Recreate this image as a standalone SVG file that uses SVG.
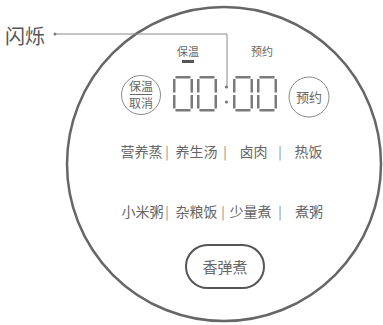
<svg xmlns="http://www.w3.org/2000/svg" width="383" height="325" viewBox="0 0 383 325">
<style>
text{font-family:"Noto Sans CJK SC","Liberation Sans",sans-serif;fill:#666}
.seg{fill:#7a7a7a}
.btn{fill:none;stroke:#8a8a8a;stroke-width:1}
.menu{font-size:14px}
.pipe{font-size:13px;fill:#888}
.small{font-size:11px}
</style>
<defs>
<g id="digit0">
<rect class="seg" x="2.5" y="0" width="15" height="2.5"/>
<rect class="seg" x="0" y="3" width="2.5" height="13.5"/>
<rect class="seg" x="17.5" y="3" width="2.5" height="13.5"/>
<rect class="seg" x="0" y="19" width="2.5" height="13.5"/>
<rect class="seg" x="17.5" y="19" width="2.5" height="13.5"/>
<rect class="seg" x="2.5" y="33" width="15" height="2.5"/>
</g>
</defs>
<rect width="383" height="325" fill="#fff"/>
<g id="body">
<circle cx="224" cy="164" r="157" fill="none" stroke="#666" stroke-width="2.5"/>
</g>
<g id="blink-label">
<text x="5" y="44" style="font-size:20px;fill:#555">闪烁</text>
</g>
<g id="connectors">
<circle cx="55" cy="34" r="1.5" fill="#777"/>
<polyline points="55,34 227,34 227,86" fill="none" stroke="#888" stroke-width="1"/>
</g>
<g id="top-labels">
<text class="small" x="188" y="56" text-anchor="middle">保温</text>
<rect x="182" y="60" width="12" height="3" fill="#555"/>
<text class="small" x="262" y="56" text-anchor="middle">预约</text>
</g>
<g id="display">
<use href="#digit0" x="173" y="76"/>
<use href="#digit0" x="197" y="76"/>
<circle cx="226.5" cy="87" r="1.6" fill="#777"/>
<circle cx="226.5" cy="102" r="1.6" fill="#777"/>
<use href="#digit0" x="233" y="76"/>
<use href="#digit0" x="257" y="76"/>
</g>
<g id="btn-keepwarm">
<circle class="btn" cx="141" cy="95" r="19.5"/>
<text x="141" y="91" text-anchor="middle" style="font-size:12px">保温</text>
<line x1="130" y1="94.5" x2="152" y2="94.5" stroke="#666" stroke-width="1"/>
<text x="141" y="108" text-anchor="middle" style="font-size:12px">取消</text>
</g>
<g id="btn-reserve">
<circle class="btn" cx="309" cy="97" r="20"/>
<text x="309" y="102" text-anchor="middle" style="font-size:13px">预约</text>
</g>
<g id="menu-row1">
<text class="menu" x="141.5" y="157" text-anchor="middle">营养蒸</text>
<text class="pipe" x="167" y="157" text-anchor="middle">|</text>
<text class="menu" x="196.5" y="157" text-anchor="middle">养生汤</text>
<text class="pipe" x="225" y="157" text-anchor="middle">|</text>
<text class="menu" x="253.5" y="157" text-anchor="middle">卤肉</text>
<text class="pipe" x="280" y="157" text-anchor="middle">|</text>
<text class="menu" x="308.5" y="157" text-anchor="middle">热饭</text>
</g>
<g id="menu-row2">
<text class="menu" x="142.5" y="217" text-anchor="middle">小米粥</text>
<text class="pipe" x="167" y="217" text-anchor="middle">|</text>
<text class="menu" x="196.5" y="217" text-anchor="middle">杂粮饭</text>
<text class="pipe" x="223" y="217" text-anchor="middle">|</text>
<text class="menu" x="250.5" y="217" text-anchor="middle">少量煮</text>
<text class="pipe" x="280" y="217" text-anchor="middle">|</text>
<text class="menu" x="309" y="217" text-anchor="middle">煮粥</text>
</g>
<g id="btn-fragrant">
<rect x="186" y="245" width="78" height="43" rx="21.5" fill="none" stroke="#555" stroke-width="2"/>
<text x="225" y="273" text-anchor="middle" style="font-size:15px">香弹煮</text>
</g>
</svg>
